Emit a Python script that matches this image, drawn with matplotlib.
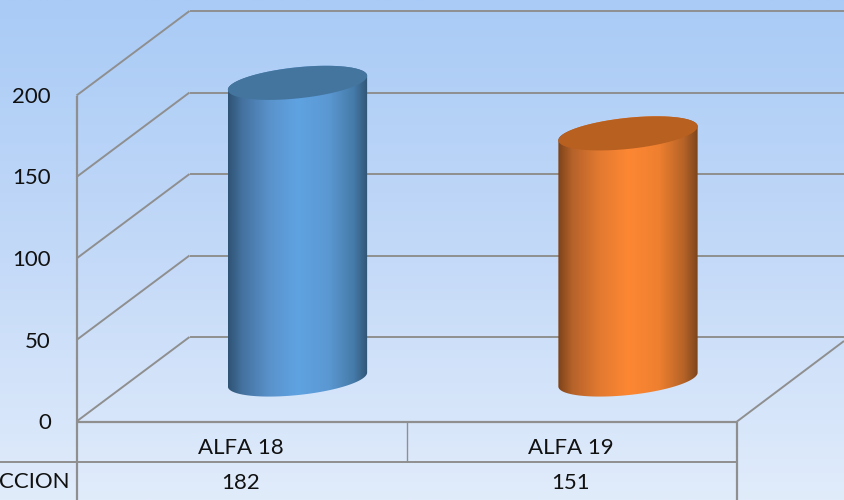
#!/usr/bin/env python3

import numpy as np
import matplotlib
matplotlib.use("Agg")
import matplotlib.pyplot as plt
from matplotlib.colors import LinearSegmentedColormap
from matplotlib.patches import PathPatch
from matplotlib.path import Path

categories = ["ALFA 18", "ALFA 19"]
values = [182, 151]
table_label = "CCION"
y_ticks = [0, 50, 100, 150, 200]

# image coordinates of the fake 3D box
FRONT_X, BACK_X, RIGHT_X = 76.5, 189.5, 737
FRONT_Y0, BACK_Y0 = 421.5, 337
PX_PER_UNIT = 1.63
CENTERS = [297.5, 628]
TEXT_X = [241, 571]
BASE_Y = 379.5
A, B, TILT = 70, 15.5, np.radians(6)
LINE = "#8f8f8f"
TEXT = "#111111"
FS = 16

plt.rcParams["font.family"] = ["Lato", "DejaVu Sans"]

fig = plt.figure(figsize=(8.44, 5), dpi=100)
ax = fig.add_axes([0, 0, 1, 1])
ax.set_xlim(0, 844)
ax.set_ylim(500, 0)
ax.axis("off")

bg = LinearSegmentedColormap.from_list("bg", ["#a9cbf6", "#c3d9f8", "#e1ecfb"])
ax.imshow(np.linspace(0, 1, 256)[:, None], cmap=bg, extent=(0, 844, 500, 0), aspect="auto", zorder=0)


def line(xs, ys, lw=1.4, color=LINE):
    ax.plot(xs, ys, color=color, lw=lw, zorder=1, solid_capstyle="butt")


# walls and gridlines
for t in y_ticks:
    front_y = FRONT_Y0 - t * PX_PER_UNIT
    back_y = BACK_Y0 - t * PX_PER_UNIT
    line([FRONT_X, BACK_X], [front_y, back_y])
    line([BACK_X, 844], [back_y, back_y])
    ax.text(51, front_y + 1.5, str(t), ha="right", va="center", fontsize=FS, color=TEXT)

# floor and table
line([FRONT_X, FRONT_X], [FRONT_Y0 - 200 * PX_PER_UNIT, 500], lw=1.6)
line([FRONT_X, RIGHT_X], [FRONT_Y0, FRONT_Y0], lw=1.6)
line([RIGHT_X, 844], [FRONT_Y0, 341])
line([0, RIGHT_X], [462, 462])
line([406.5, 406.5], [FRONT_Y0, 462], lw=1.0)
line([RIGHT_X, RIGHT_X], [FRONT_Y0, 500], lw=1.6)


def ellipse(cx, cy, n=181):
    t = np.linspace(0, 2 * np.pi, n)
    x = cx + A * np.cos(t) * np.cos(TILT) + B * np.sin(t) * np.sin(TILT)
    y = cy - A * np.cos(t) * np.sin(TILT) + B * np.sin(t) * np.cos(TILT)
    return x, y


def cylinder(cx, value, side_colors, top_color):
    top_y = BASE_Y - value * PX_PER_UNIT
    x, y = ellipse(cx, 0)
    right = np.argmax(x)
    left = np.argmin(x)
    # upper arc from the top cap, lower arc from the base
    ux = np.r_[x[left:], x[1:right + 1]]
    uy = np.r_[y[left:], y[1:right + 1]] + top_y
    lx = x[right:left + 1]
    ly = y[right:left + 1] + BASE_Y
    verts = np.c_[np.r_[ux, lx], np.r_[uy, ly]]
    body = Path(np.vstack([verts, verts[:1]]), closed=True)
    cmap = LinearSegmentedColormap.from_list("side", side_colors)
    im = ax.imshow(np.linspace(0, 1, 256)[None, :], cmap=cmap,
                   extent=(x.min(), x.max(), 500, 0), aspect="auto", zorder=2)
    im.set_clip_path(PathPatch(body, transform=ax.transData))
    tx, ty = ellipse(cx, top_y)
    ax.fill(tx, ty, color=top_color, lw=0, zorder=3)


cylinder(CENTERS[0], values[0],
         [(0.0, "#2f5375"), (0.1, "#44719f"), (0.3, "#5a93cc"), (0.5, "#5fa3e2"),
          (0.72, "#5b98d2"), (0.9, "#457ba9"), (1.0, "#315575")], "#44759f")
cylinder(CENTERS[1], values[1],
         [(0.0, "#7c4219"), (0.1, "#b5622a"), (0.3, "#e37a30"), (0.5, "#fd8733"),
          (0.72, "#ef8030"), (0.9, "#b66327"), (1.0, "#7d451c")], "#b86020")

# table text
for tx, cat, val in zip(TEXT_X, categories, values):
    ax.text(tx, 448, cat, ha="center", va="center", fontsize=FS, color=TEXT)
    ax.text(tx, 483, str(val), ha="center", va="center", fontsize=FS, color=TEXT)
ax.text(69, 482, table_label, ha="right", va="center", fontsize=FS, color=TEXT)

ax.set_xlim(0, 844)
ax.set_ylim(500, 0)
fig.savefig("out.png", dpi=100)
